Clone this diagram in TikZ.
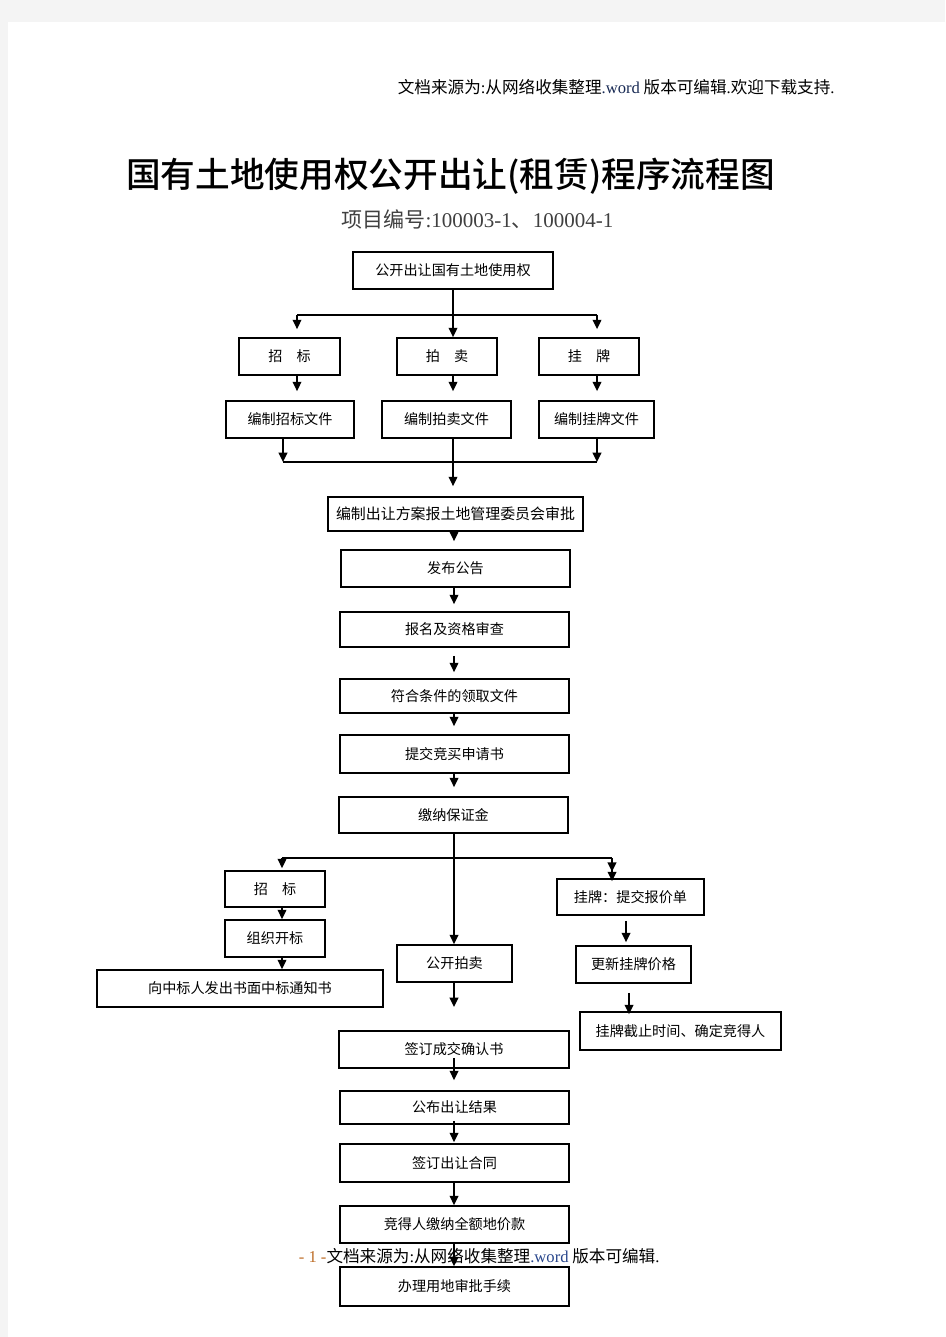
\documentclass[tikz,border=0pt]{standalone}
\usepackage{fontspec}
\setmainfont{Noto Sans CJK SC}
\newfontfamily\lserif{Liberation Serif}
\newfontfamily\titlefont{Noto Sans CJK SC}[UprightFont=* Medium]
\usetikzlibrary{arrows.meta}
\definecolor{pagegray}{RGB}{244,244,244}
\definecolor{subgray}{RGB}{64,64,64}
\definecolor{pgnum}{RGB}{190,110,40}
\definecolor{wordblue}{RGB}{40,70,140}
\tikzset{
  box/.style={draw, inner sep=0pt, font=\fontsize{10.6}{12}\selectfont},
  sz/.style 2 args={minimum width=#1*0.75pt, minimum height=#2*0.75pt},
  arr/.style={-{Triangle[width=6.5pt,length=7pt]}},
  arrtwo/.style={-{Triangle[width=6.5pt,length=7pt]Triangle[width=6.5pt,length=7pt]}},
}
\begin{document}
\begin{tikzpicture}[x=0.75pt,y=0.75pt,yscale=-1,xscale=1,line width=1.3pt]
\useasboundingbox (0,0) rectangle (945,1337);
\fill[pagegray] (0,0) rectangle (945,1337);
\fill[white] (8,22) rectangle (945,1337);
% header, title
\node[anchor=west, inner sep=0pt, font=\fontsize{12.45}{14}\selectfont] (hdr) at (397,87) {文档来源为{\lserif :}从网络收集整理{\lserif\color{wordblue!60!black}.word} 版本可编辑{\lserif .}欢迎下载支持{\lserif .}};
\node[inner sep=0pt, font=\fontsize{26}{30}\titlefont] (ttl) at (450.5,176) {国有土地使用权公开出让(租赁)程序流程图};
\node[inner sep=0pt, text=subgray, font=\fontsize{15.75}{18}\selectfont] (sub) at (477.5,219) {项目编号{\lserif :100003-1}、{\lserif 100004-1}};
% top part
\node[box, sz={200}{37}] (n0) at (453,270.5) {公开出让国有土地使用权};
\node[box, sz={101}{37}] (zb) at (289.5,356.5) {招\hspace{1em}标};
\node[box, sz={100}{37}] (pm) at (447,356.5) {拍\hspace{1em}卖};
\node[box, sz={100}{37}] (gp) at (589,356.5) {挂\hspace{1em}牌};
\node[box, sz={128}{37}] (zbw) at (290,419.5) {编制招标文件};
\node[box, sz={129}{37}] (pmw) at (446.5,419.5) {编制拍卖文件};
\node[box, sz={115}{37}] (gpw) at (596.5,419.5) {编制挂牌文件};
\node[box, sz={255}{34}, font=\fontsize{11.2}{13}\selectfont] (fa) at (455.5,514) {编制出让方案报土地管理委员会审批};
\node[box, sz={229}{37}] (gg) at (455.5,568.5) {发布公告};
\node[box, sz={229}{35}] (bm) at (454.5,629.5) {报名及资格审查};
\node[box, sz={229}{34}] (lq) at (454.5,696) {符合条件的领取文件};
\node[box, sz={229}{38}] (tj) at (454.5,754) {提交竞买申请书};
\node[box, sz={229}{36}] (bz) at (453.5,815) {缴纳保证金};
% three ways
\node[box, sz={100}{36}] (zbt) at (275,889) {招\hspace{1em}标};
\node[box, sz={100}{37}] (kb) at (275,938.5) {组织开标};
\node[box, sz={286}{37}] (tz) at (240,988.5) {向中标人发出书面中标通知书};
\node[box, sz={115}{37}] (gk) at (454.5,963.5) {公开拍卖};
\node[box, sz={147}{36}] (bj) at (630.5,897) {挂牌：提交报价单};
\node[box, sz={115}{37}] (gx) at (633.5,964.5) {更新挂牌价格};
\node[box, sz={201}{38}] (jz) at (680.5,1031) {挂牌截止时间、确定竞得人};
% bottom part
\node[box, sz={230}{37}] (qr) at (454,1049.5) {签订成交确认书};
\node[box, sz={229}{33}] (jg) at (454.5,1107.5) {公布出让结果};
\node[box, sz={229}{38}] (ht) at (454.5,1163) {签订出让合同};
\node[box, sz={229}{37}] (dj) at (454.5,1224.5) {竞得人缴纳全额地价款};
\node[box, sz={229}{39}] (sp) at (454.5,1286.5) {办理用地审批手续};
% connectors
\coordinate (sL) at (297,315);
\coordinate (sR) at (597,315);
\coordinate (mL) at (283,462);
\coordinate (mR) at (597,462);
\coordinate (ax) at (454,0);
\draw[arr] (n0.south) -- (n0.south |- pm.north);
\draw (sL) -- (sR);
\draw[arr, shorten >=6pt] (sL) -- (sL |- zb.north);
\draw[arr, shorten >=6pt] (sR) -- (sR |- gp.north);
\draw[arr, shorten >=6.75pt] (sL |- zb.south) -- (sL |- zbw.north);
\draw[arr, shorten >=6.75pt] (n0.south |- pm.south) -- (n0.south |- pmw.north);
\draw[arr, shorten >=6.75pt] (sR |- gp.south) -- (sR |- gpw.north);
\draw[arr] (mL |- zbw.south) -- (mL);
\draw[arr] (mR |- gpw.south) -- (mR);
\draw (mL) -- (mR);
\draw[arr, shorten >=7.5pt] (n0.south |- pmw.south) -- (n0.south |- fa.north);
\draw[arr, shorten >=6pt] (ax |- fa.south) -- (ax |- gg.north);
\draw[arr, shorten >=5.25pt] (ax |- gg.south) -- (ax |- bm.north);
\draw[arr, shorten <=6pt, shorten >=4.5pt] (ax |- bm.south) -- (ax |- lq.north);
\draw[arr, shorten >=6pt] (ax |- lq.south) -- (ax |- tj.north);
\draw[arr, shorten >=6.75pt] (ax |- tj.south) -- (ax |- bz.north);
\coordinate (bL) at (282,858);
\coordinate (bR) at (612,858);
\coordinate (gkend) at (454,1007);
\draw[arr] (ax |- bz.south) -- (ax |- gk.north);
\draw (bL) -- (bR);
\draw[arr, shorten >=1.5pt] (bL) -- (bL |- zbt.north);
\draw[arrtwo, shorten >=-2.25pt] (bR) -- (bR |- bj.north);
\draw[arr] (bL |- zbt.south) -- (bL |- kb.north);
\draw[arr] (bL |- kb.south) -- (bL |- tz.north);
\draw[arr] (ax |- gk.south) -- (gkend);
\coordinate (cA) at (626,0);
\coordinate (cB) at (629,0);
\draw[arr, shorten <=3.75pt, shorten >=2.25pt] (cA |- bj.south) -- (cA |- gx.north);
\draw[arr, shorten <=6.75pt, shorten >=-2.25pt] (cB |- gx.south) -- (cB |- jz.north);
\draw[arr, shorten <=-8.25pt, shorten >=7.5pt] (ax |- qr.south) -- (ax |- jg.north);
\draw[arr, shorten <=-3pt, shorten >=0.75pt] (ax |- jg.south) -- (ax |- ht.north);
\draw[arr] (ax |- ht.south) -- (ax |- dj.north);
\draw[arr] (ax |- dj.south) -- (ax |- sp.north);
% footer
\node[anchor=west, inner sep=0pt, font=\fontsize{12.45}{14}\selectfont] (ftr) at (298,1256) {{\lserif\color{pgnum}- 1 -}文档来源为{\lserif :}从网络收集整理{\lserif\color{wordblue}.word} 版本可编辑{\lserif .}};
\end{tikzpicture}
\end{document}
